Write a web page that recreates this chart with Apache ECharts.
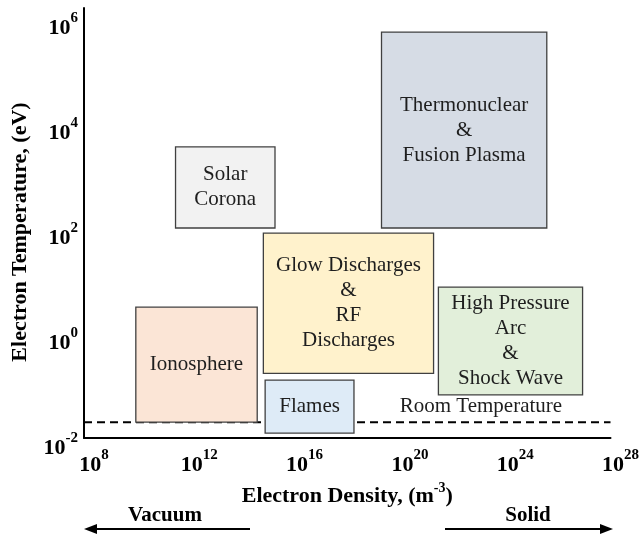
<!DOCTYPE html>
<html>
<head>
<meta charset="utf-8">
<script src="https://cdn.jsdelivr.net/npm/echarts@6/dist/echarts.min.js"></script>
<style>
html,body{margin:0;padding:0;background:#fff;}
#chart{width:642px;height:537px;}
</style>
</head>
<body>
<div id="chart"></div>
<script>
// ---- data ----
const regions = [
  'Solar\nCorona',
  'Thermonuclear\n&\nFusion Plasma',
  'Glow Discharges\n&\nRF\nDischarges',
  'High Pressure\nArc\n&\nShock Wave',
  'Ionosphere',
  'Flames'
];
const densityLow  = [3.0e11, 2.0e19, 6.5e14, 2.9e21, 9.3e9,  7.6e14]; // m^-3
const densityHigh = [1.8e15, 3.8e25, 1.9e21, 8.7e26, 3.8e14, 1.8e18]; // m^-3
const tempLow     = [100,    100,    0.17,   0.066,  0.02,   0.0124]; // eV
const tempHigh    = [3500,   5.4e5,  80,     7.5,    3.1,    0.127];  // eV
const roomTemperature = 0.02; // eV
const roomLabel = 'Room Temperature';
const roomLabelAt = [1.2e23, 0.039];
const xTickExponents = [8, 12, 16, 20, 24, 28];
const yTickExponents = [-2, 0, 2, 4, 6];

// ---- styles ----
const FONT = '"Liberation Serif", "Times New Roman", serif';
const fills = ['#f2f2f2', '#d6dce5', '#fff2cc', '#e2efda', '#fbe5d6', '#deebf7'];
const TEXT_COLOR = '#1e1e1e';

const tickRich = {
  b: {fontFamily: FONT, fontSize: 22, fontWeight: 'bold', color: '#000', lineHeight: 28, verticalAlign: 'bottom'},
  s: {fontFamily: FONT, fontSize: 15, fontWeight: 'bold', color: '#000', lineHeight: 15, verticalAlign: 'top'}
};
function tickFmt(list) {
  return function (v) {
    const r = Math.round(v);
    if (Math.abs(v - r) > 1e-6 || list.indexOf(r) < 0) return '';
    return '{b|10}{s|' + r + '}';
  };
}
const titleRich = {
  t: {fontFamily: FONT, fontSize: 22, fontWeight: 'bold', color: '#000', lineHeight: 26, verticalAlign: 'bottom'},
  s: {fontFamily: FONT, fontSize: 14, fontWeight: 'bold', color: '#000', lineHeight: 14, verticalAlign: 'top'}
};

const lg = Math.log10;
const boxData = regions.map((n, i) => [lg(densityLow[i]), lg(densityHigh[i]), lg(tempLow[i]), lg(tempHigh[i])]);

const chart = echarts.init(document.getElementById('chart'));
chart.setOption({
  animation: false,
  backgroundColor: '#fff',
  grid: {left: 84, right: 29, top: 8, bottom: 99},
  xAxis: {
    type: 'value', min: 8, max: 28, interval: 4,
    axisLine: {show: true, onZero: false, lineStyle: {color: '#000', width: 2}},
    axisTick: {show: false}, splitLine: {show: false},
    axisLabel: {formatter: tickFmt(xTickExponents), rich: tickRich, margin: 10, padding: [0, 0, 0, 20]},
    name: '{t|Electron Density, (m}{s|-3}{t|)}',
    nameLocation: 'middle', nameGap: 42,
    nameTextStyle: {rich: titleRich}
  },
  yAxis: {
    type: 'value', min: -2, max: 6.19, interval: 2,
    axisLine: {show: true, onZero: false, lineStyle: {color: '#000', width: 2}},
    axisTick: {show: false}, splitLine: {show: false},
    axisLabel: {formatter: tickFmt(yTickExponents), rich: tickRich, margin: 6, padding: [14, 0, 0, 0]},
    name: 'Electron Temperature, (eV)',
    nameLocation: 'middle', nameGap: 53, nameRotate: 90,
    nameTextStyle: {fontFamily: FONT, fontSize: 22, fontWeight: 'bold', color: '#000', padding: [0, 18, 0, 0]}
  },
  graphic: [
    {type: 'text', x: 165, y: 516, style: {text: 'Vacuum', font: 'bold 21px ' + FONT, fill: '#000', textAlign: 'center', textVerticalAlign: 'middle'}},
    {type: 'line', shape: {x1: 95, y1: 529, x2: 250, y2: 529}, style: {stroke: '#000', lineWidth: 2}},
    {type: 'polygon', shape: {points: [[84, 529], [97, 524], [97, 534]]}, style: {fill: '#000'}},
    {type: 'text', x: 528, y: 516, style: {text: 'Solid', font: 'bold 21px ' + FONT, fill: '#000', textAlign: 'center', textVerticalAlign: 'middle'}},
    {type: 'line', shape: {x1: 445, y1: 529, x2: 602, y2: 529}, style: {stroke: '#000', lineWidth: 2}},
    {type: 'polygon', shape: {points: [[613, 529], [600, 524], [600, 534]]}, style: {fill: '#000'}}
  ],
  series: [
    {
      type: 'line', silent: true, symbol: 'none', z: 2,
      data: [[8, lg(roomTemperature)], [28, lg(roomTemperature)]],
      lineStyle: {color: '#000', width: 2, type: [8, 5]}
    },
    {
      type: 'custom', silent: true, z: 2,
      data: [[lg(roomLabelAt[0]), lg(roomLabelAt[1])]],
      encode: {x: 0, y: 1},
      renderItem: function (params, api) {
        const p = api.coord([api.value(0), api.value(1)]);
        return {type: 'text', x: p[0], y: p[1],
          style: {text: roomLabel, font: '21px ' + FONT, fill: TEXT_COLOR, textAlign: 'center', textVerticalAlign: 'middle'}};
      }
    },
    {
      type: 'custom', z: 3, silent: true,
      data: boxData,
      encode: {x: [0, 1], y: [2, 3]},
      renderItem: function (params, api) {
        const i = params.dataIndex;
        const p0 = api.coord([api.value(0), api.value(3)]);
        const p1 = api.coord([api.value(1), api.value(2)]);
        return {
          type: 'group',
          children: [
            {type: 'rect', shape: {x: p0[0], y: p0[1], width: p1[0] - p0[0], height: p1[1] - p0[1]},
             style: {fill: fills[i], stroke: '#404040', lineWidth: 1.3}},
            {type: 'text', x: (p0[0] + p1[0]) / 2, y: (p0[1] + p1[1]) / 2,
             style: {text: regions[i], font: '21px ' + FONT, fill: TEXT_COLOR, textAlign: 'center', textVerticalAlign: 'middle', lineHeight: 25}}
          ]
        };
      }
    }
  ]
});
</script>
</body>
</html>
